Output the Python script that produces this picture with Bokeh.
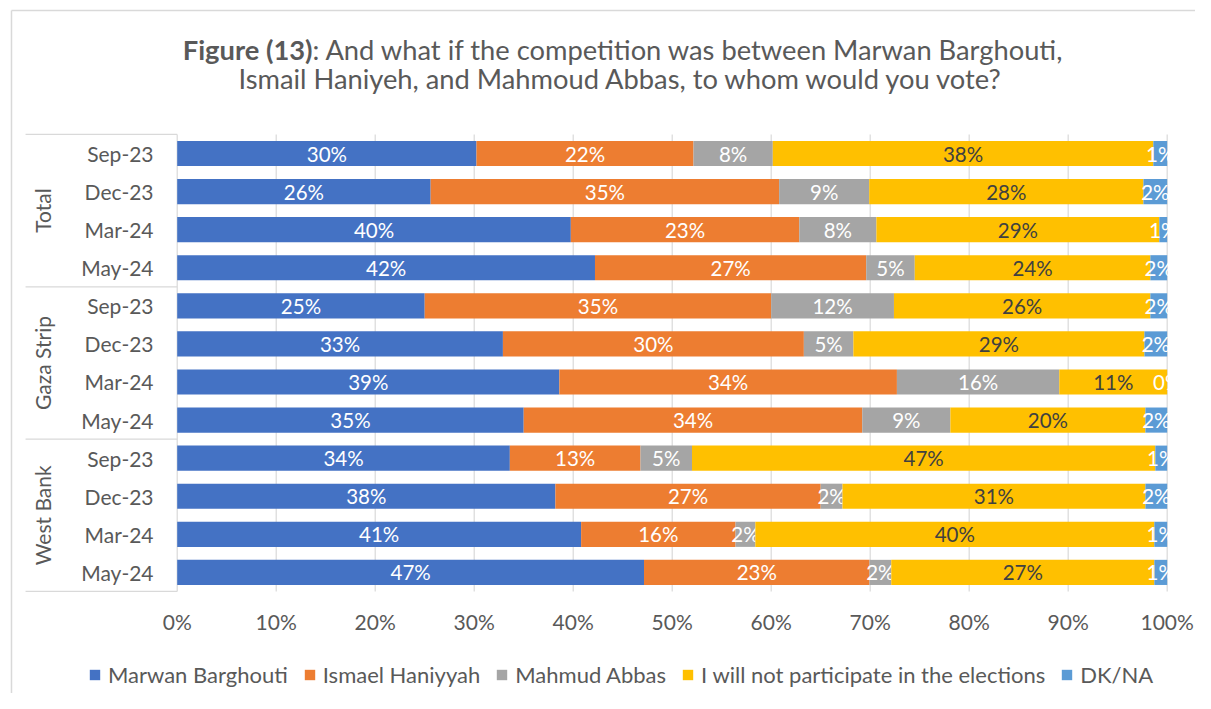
import numpy as np
from bokeh.plotting import figure
from bokeh.models import ColumnDataSource, Range1d, Legend, LegendItem
from bokeh.core.properties import value
from bokeh.embed import file_html
from bokeh.resources import INLINE

# ---------------- data ----------------
groups = ["Total", "Gaza Strip", "West Bank"]
periods = ["Sep-23", "Dec-23", "Mar-24", "May-24"]
series_names = ["Marwan Barghouti", "Ismael Haniyyah", "Mahmud Abbas",
                "I will not participate in the elections", "DK/NA"]

barghouti = [30.2, 25.6, 39.8, 42.2, 25.0, 32.9, 38.6, 35.0, 33.6, 38.2, 40.8, 47.2]
haniyeh = [21.9, 35.2, 23.1, 27.4, 35.0, 30.4, 34.1, 34.2, 13.2, 26.8, 15.6, 22.8]
abbas = [8.0, 9.1, 7.8, 4.9, 12.4, 5.0, 16.4, 8.9, 5.2, 2.2, 2.0, 2.2]
not_participate = [38.4, 27.7, 28.6, 23.8, 25.9, 29.4, 10.9, 19.7, 46.8, 30.6, 40.3, 26.6]
dk_na = [1.4, 2.4, 0.8, 1.7, 1.7, 2.3, 0.0, 2.2, 1.2, 2.2, 1.3, 1.3]

x_ticks = [0, 10, 20, 30, 40, 50, 60, 70, 80, 90, 100]
x_tick_labels = [f"{t}%" for t in x_ticks]

title_bold = "Figure (13)"
title_rest = ": And what if the competition was between Marwan Barghouti,"
title_line2 = "Ismail Haniyeh, and Mahmoud Abbas, to whom would you vote?"

# ---------------- styles ----------------
colors = ["#4472C4", "#ED7D31", "#A5A5A5", "#FFC000", "#5B9BD5"]
label_colors = ["#FFFFFF", "#FFFFFF", "#FFFFFF", "#404040", "#FFFFFF"]
FONT = "Lato"
GREY_TXT = "#595959"
LINE_GREY = "#D9D9D9"

series = [barghouti, haniyeh, abbas, not_participate, dk_na]
n_rows = len(groups) * len(periods)
rows = np.arange(n_rows)
vals = np.array(series, dtype=float)
vals = vals / vals.sum(axis=0) * 100.0   # 100% stacked
rights = np.cumsum(vals, axis=0)
lefts = rights - vals

W, H = 1195, 693
p = figure(width=W, height=H,
           x_range=Range1d(-17.85, 102.86), y_range=Range1d(14.18, -4.018),
           output_backend="svg", toolbar_location=None,
           x_axis_location=None, y_axis_location=None,
           min_border_left=0, min_border_right=0, min_border_top=0, min_border_bottom=0)
p.outline_line_color = None
p.background_fill_color = "white"
p.border_fill_color = "white"
p.grid.visible = False

# outer chart-area border (left and top edges)
p.segment(x0=[-16.74, -16.74], y0=[-3.755, -3.755], x1=[-16.74, 102.86], y1=[14.18, -3.755],
          line_color=LINE_GREY, line_width=1.5)

# vertical gridlines
p.segment(x0=x_ticks, x1=x_ticks, y0=-0.5, y1=n_rows - 0.5,
          line_color=LINE_GREY, line_width=1.2)

# x tick labels
p.text(x=x_ticks, y=12.28, text=x_tick_labels, text_align="center",
       text_baseline="middle", text_font=value(FONT), text_font_size="21px",
       text_color=GREY_TXT)

renderers = []
for i, name in enumerate(series_names):
    src = ColumnDataSource(dict(
        y=rows, left=lefts[i], right=rights[i],
        mid=(lefts[i] + rights[i]) / 2.0,
        txt=[f"{int(v + 0.5)}%" for v in series[i]],
    ))
    r = p.hbar(y="y", left="left", right="right", height=0.66, source=src,
               fill_color=colors[i], line_color=None)
    renderers.append(r)
    p.text(x="mid", y="y", text="txt", source=src, text_align="center",
           text_baseline="middle", text_font=value(FONT), text_font_size="20.5px",
           text_color=label_colors[i])

# category axis (multi-level)
cat_src = ColumnDataSource(dict(
    y=rows, txt=[per for g in groups for per in periods]))
p.text(x=-2.39, y="y", text="txt", source=cat_src, text_align="right",
       text_baseline="middle", text_font=value(FONT), text_font_size="21px",
       text_color=GREY_TXT)

grp_centers = [i * len(periods) + (len(periods) - 1) / 2.0 for i in range(len(groups))]
p.text(x=-13.6, y=grp_centers, text=groups, angle=np.pi / 2, text_align="center",
       text_baseline="middle", text_font=value(FONT), text_font_size="21px",
       text_color=GREY_TXT)

bounds = [i * len(periods) - 0.5 for i in range(len(groups) + 1)]
p.segment(x0=-15.32, x1=0, y0=bounds, y1=bounds, line_color=LINE_GREY, line_width=1.2)

# title
TS = "27.3px"
p.text(x=[13.67], y=[-2.73], text=[title_bold], text_align="right",
       text_baseline="alphabetic", text_font=value(FONT), text_font_size=TS,
       text_font_style="bold", text_color=GREY_TXT)
p.text(x=[13.67], y=[-2.73], text=[title_rest], text_align="left",
       text_baseline="alphabetic", text_font=value(FONT), text_font_size=TS,
       text_color=GREY_TXT)
p.text(x=[44.85], y=[-1.98], text=[title_line2], text_align="center",
       text_baseline="alphabetic", text_font=value(FONT), text_font_size=TS,
       text_color=GREY_TXT)

legend = Legend(items=[LegendItem(label=n, renderers=[r]) for n, r in zip(series_names, renderers)],
                orientation="horizontal", location=(88, 5), padding=0, margin=0,
                spacing=15, label_standoff=7, glyph_width=13, glyph_height=13,
                label_height=24, label_text_font=FONT, label_text_font_size="22px",
                label_text_color=GREY_TXT, border_line_color=None, background_fill_alpha=0)
p.add_layout(legend)

open("out.html", "w").write(file_html(p, INLINE))
